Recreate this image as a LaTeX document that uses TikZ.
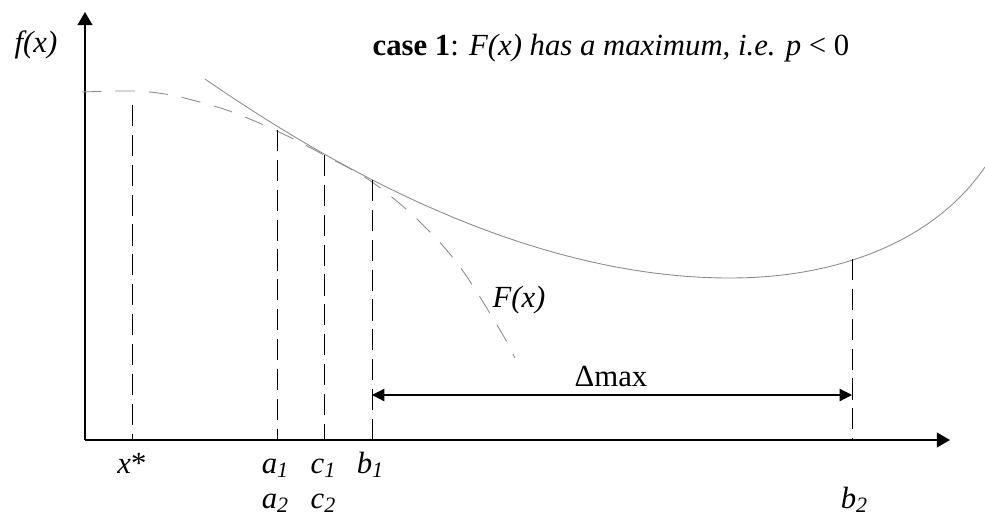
\documentclass[tikz,border=0pt]{standalone}
\usepackage{fontspec}
\setmainfont{Liberation Serif}
\usetikzlibrary{arrows.meta,positioning}
\definecolor{curvegray}{RGB}{140,140,140}
\newcommand{\ixl}[2]{\textit{#1}\raisebox{-0.35ex}{\fontsize{12.5}{13}\selectfont\textit{#2}}}

\begin{document}
\begin{tikzpicture}[x=0.02cm, y=-0.02cm, every node/.style={font=\fontsize{17.5}{21}\selectfont, inner sep=0pt},
  guide/.style={line width=0.5pt, dash pattern=on 12pt off 5pt},
  axis/.style={line width=0.8pt, -{Triangle[length=7.5pt,width=8.5pt]}}]
\useasboundingbox (0,0) rectangle (985,521);
% axes
\coordinate (origin) at (85,440);
\coordinate (ytip) at (85,12);
\coordinate (xtip) at (950,440);
\draw[axis] (origin) -- (ytip);
\draw[axis] (origin) -- (xtip);
\node[anchor=base] (fx) at (36,52) {\textit{f(x)}};
\node[anchor=base] (title) at (611,55) {\textbf{case 1}: \textit{F(x) has a maximum, i.e. p} < 0};
% curves
\coordinate (fstart) at (205,79);
\coordinate (fmin) at (730,278);
\coordinate (fend) at (985,167);
\draw[curvegray, line width=0.5pt] (fstart) .. controls (380,200) and (560,278) .. (fmin)
  .. controls (840,278) and (935,240) .. (fend);
\draw[curvegray, line width=0.5pt, dash pattern=on 11pt off 8pt] plot[smooth, tension=0.6] coordinates {(82,92) (132,91) (165,94) (196,101) (232,112) (277,131) (324,155) (372,182) (420,222) (460,267) (500,330) (515,358)};
\node[anchor=base] (Flbl) at (519,307) {\textit{F(x)}};
% guide lines
\coordinate (xs) at (132,440);  \coordinate (xs top) at (132,105);
\coordinate (a) at (277,440);   \coordinate (a top) at (277,130);
\coordinate (c) at (324,440);   \coordinate (c top) at (324,155);
\coordinate (b1) at (372,440);  \coordinate (b1 top) at (372,180);
\coordinate (b2) at (852,440);  \coordinate (b2 top) at (852,259);
\foreach \p in {xs,a,c,b1,b2}
  \draw[guide] (\p\space top) -- (\p);
% labels on the x axis
\node[anchor=base] (xslbl) at (132,473) {\textit{x}*};
\node[anchor=base] (a1lbl) at (275,473) {\ixl{a}{1}};
\node[anchor=base] (c1lbl) at (323,473) {\ixl{c}{1}};
\node[anchor=base] (b1lbl) at (370,473) {\ixl{b}{1}};
\node[anchor=base] (a2lbl) at (275,508) {\ixl{a}{2}};
\node[anchor=base] (c2lbl) at (323,508) {\ixl{c}{2}};
\node[anchor=base] (b2lbl) at (854,508) {\ixl{b}{2}};
% delta max
\coordinate (dl) at (372,395);
\coordinate (dr) at (852,395);
\draw[line width=0.7pt, {Triangle[length=7pt,width=7pt]}-{Triangle[length=7pt,width=7pt]}] (dl) -- (dr);
\node[anchor=base] (dmax) at (611,386) {Δmax};
\end{tikzpicture}
\end{document}
